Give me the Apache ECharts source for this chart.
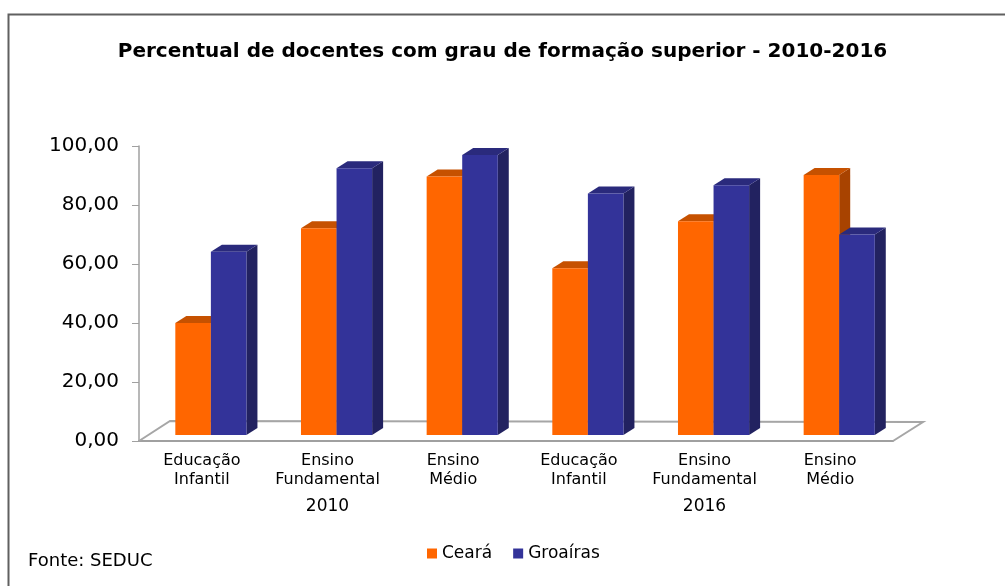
<!DOCTYPE html>
<html>
<head>
<meta charset="utf-8">
<script src="https://cdn.jsdelivr.net/npm/echarts@6/dist/echarts.min.js"></script>
<style>
  html, body { margin: 0; padding: 0; background: #fff; }
  #chart { width: 1005px; height: 586px; }
</style>
</head>
<body>
<div id="chart"></div>
<script>
const categories = ['Educação\nInfantil', 'Ensino\nFundamental', 'Ensino\nMédio', 'Educação\nInfantil', 'Ensino\nFundamental', 'Ensino\nMédio']
const years = ['2010', '2016']
const ceara = [38.0, 70.1, 87.6, 56.5, 72.5, 88.1]
const groairas = [62.1, 90.4, 94.9, 81.9, 84.7, 68.0]
const yTicks = [0, 20, 40, 60, 80, 100]

const FONT = '"DejaVu Sans", sans-serif'

// pseudo 3d bar: front face + top cap + right side
function bar3d(left, frontColor, topColor, sideColor) {
    return function (params, api) {
        let cat = api.value(0)
        let base = api.coord([cat, 0])
        let top = api.coord([cat, api.value(1)])
        let band = api.size([1, 0])[0]
        let w = band * 0.283
        let x = base[0] + band * 0.072 - (left ? w : 0)
        let y0 = base[1] - 6
        let y1 = top[1] - 6
        let dx = 11, dy = 7
        return {
            type: 'group',
            children: [
                { type: 'polygon', shape: { points: [[x + w, y1], [x + w + dx, y1 - dy], [x + w + dx, y0 - dy], [x + w, y0]] }, style: { fill: sideColor } },
                { type: 'polygon', shape: { points: [[x, y1], [x + dx, y1 - dy], [x + w + dx, y1 - dy], [x + w, y1]] }, style: { fill: topColor } },
                { type: 'rect', shape: { x: x, y: y1, width: w, height: y0 - y1 }, style: { fill: frontColor } }
            ]
        }
    }
}

// floor of the 3d plot area
function floor(params, api) {
    let cs = params.coordSys
    let yb = cs.y + cs.height
    return {
        type: 'polyline',
        shape: { points: [[cs.x, yb], [cs.x + 31, yb - 20], [cs.x + cs.width + 30, yb - 19], [cs.x + cs.width, yb]] },
        style: { stroke: '#a6a6a6', lineWidth: 2, fill: null }
    }
}

let chart = echarts.init(document.getElementById('chart'))
chart.setOption({
    animation: false,
    backgroundColor: '#fff',
    title: {
        text: 'Percentual de docentes com grau de formação superior - 2010-2016',
        left: 'center',
        top: 37,
        textStyle: { fontFamily: FONT, fontSize: 20, fontWeight: 'bold', color: '#000' }
    },
    graphic: [
        { type: 'rect', left: 6, top: 12, shape: { width: 1100, height: 700 }, style: { fill: null, stroke: '#606060', lineWidth: 2 }, z: 100 },
        { type: 'text', left: 28, top: 552, style: { text: 'Fonte: SEDUC', fontFamily: FONT, fontSize: 18, fill: '#000' } }
    ],
    legend: {
        left: 422,
        top: 540,
        icon: 'rect',
        itemWidth: 10,
        itemHeight: 10,
        itemGap: 21,
        textStyle: { fontFamily: FONT, fontSize: 17, color: '#000' },
        data: ['Ceará', 'Groaíras']
    },
    grid: { left: 139, right: 112, top: 146, bottom: 145 },
    xAxis: [{
        type: 'category',
        data: categories,
        axisLine: { lineStyle: { color: '#a0a0a0', width: 2 } },
        axisTick: { interval: 0, length: 50, lineStyle: { color: '#909090', width: 1.5 } },
        axisLabel: { interval: 0, margin: 10, fontFamily: FONT, fontSize: 16, color: '#000', lineHeight: 19 }
    }, {
        type: 'category',
        data: years,
        position: 'bottom',
        axisLine: { show: false },
        axisTick: { length: 79, lineStyle: { color: '#909090', width: 1.5 } },
        axisLabel: { margin: 57, fontFamily: FONT, fontSize: 17, color: '#000' }
    }],
    yAxis: {
        type: 'value',
        min: yTicks[0],
        max: yTicks[yTicks.length - 1],
        interval: 20,
        axisLine: { show: true, lineStyle: { color: '#a0a0a0', width: 1.5 } },
        axisTick: { show: true, length: 7, lineStyle: { color: '#a0a0a0' } },
        splitLine: { show: false },
        axisLabel: {
            margin: 20,
            fontFamily: FONT,
            fontSize: 20,
            color: '#000',
            formatter: v => v.toFixed(2).replace('.', ',')
        }
    },
    series: [{
        type: 'custom',
        silent: true,
        renderItem: floor,
        data: [[0, 0]],
        z: 1
    }, {
        name: 'Ceará',
        type: 'custom',
        renderItem: bar3d(true, '#ff6600', '#c65100', '#a84300'),
        itemStyle: { color: '#ff6600' },
        data: ceara.map((v, i) => [i, v]),
        z: 2
    }, {
        name: 'Groaíras',
        type: 'custom',
        renderItem: bar3d(false, '#333399', '#2a2a7c', '#222260'),
        itemStyle: { color: '#333399' },
        data: groairas.map((v, i) => [i, v]),
        z: 3
    }]
})
</script>
</body>
</html>
